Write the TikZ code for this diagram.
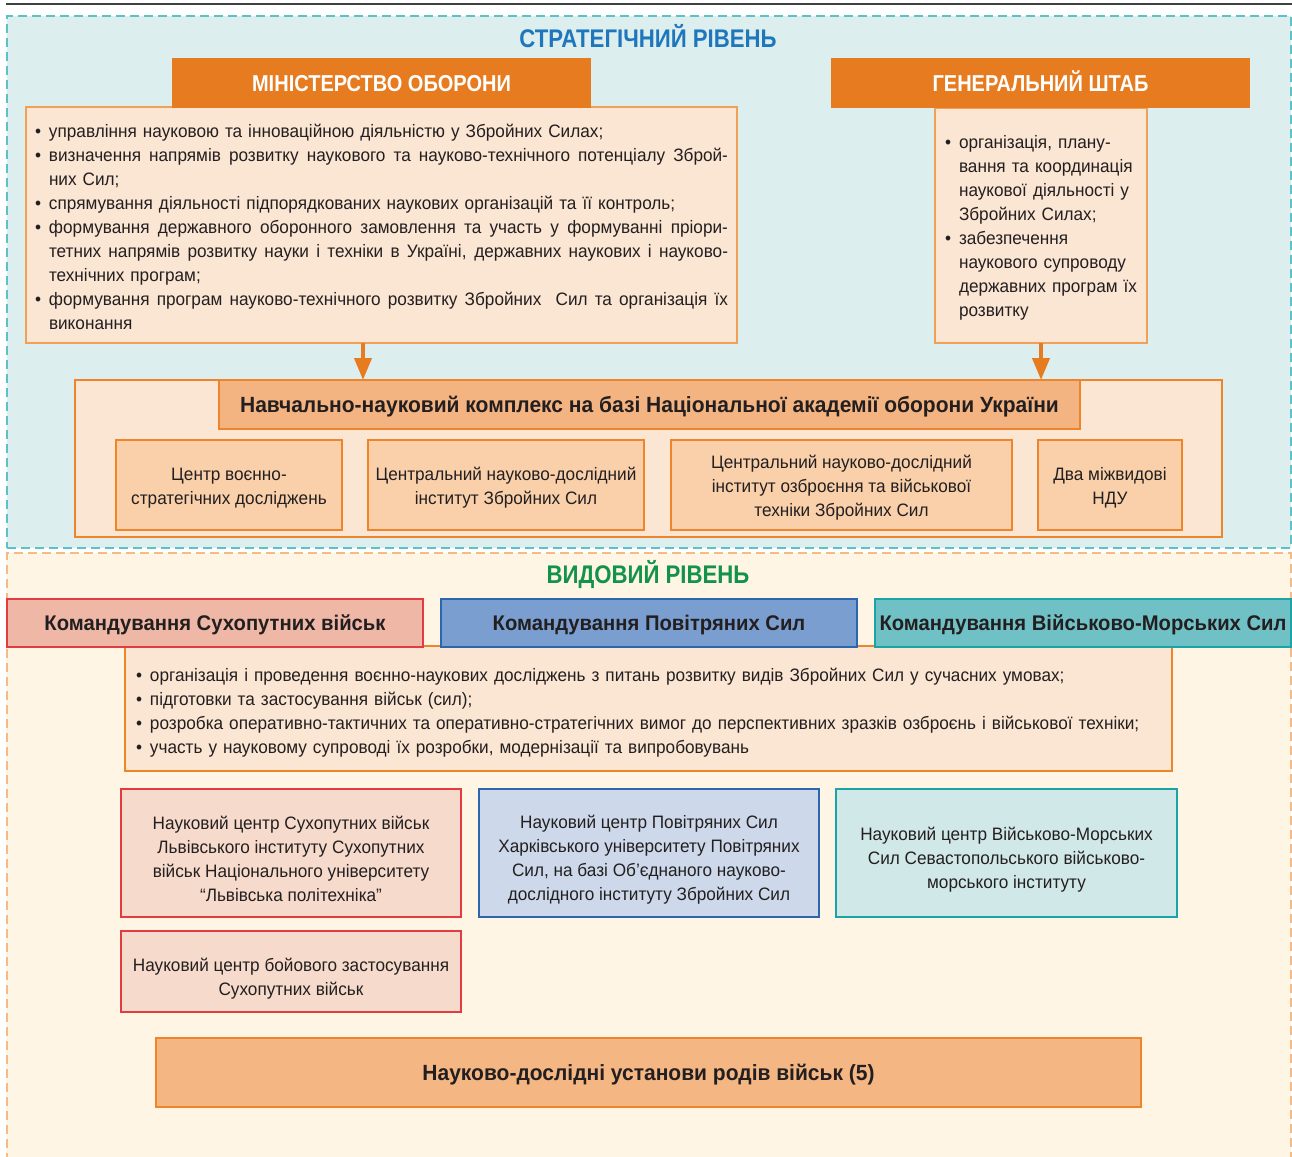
\documentclass[tikz,border=0pt]{standalone}
\usepackage{fontspec}
\setmainfont{Liberation Sans}[FakeStretch=0.955]
\newfontfamily\capsfont{Liberation Sans}[FakeStretch=0.87]
\usetikzlibrary{arrows.meta}
\definecolor{txt}{HTML}{231F20}
\definecolor{tealfill}{HTML}{DDEEEE}
\definecolor{tealdash}{HTML}{5CC2CA}
\definecolor{creamfill}{HTML}{FEF5E4}
\definecolor{creamdash}{HTML}{F6BA85}
\definecolor{orhead}{HTML}{E77B20}
\definecolor{peach}{HTML}{FBE5D3}
\definecolor{peachline}{HTML}{F0A057}
\definecolor{orline}{HTML}{EE852A}
\definecolor{subfill}{HTML}{F9D0AA}
\definecolor{cxhead}{HTML}{F3B481}
\definecolor{bluetitle}{HTML}{1E77BC}
\definecolor{greentitle}{HTML}{13924A}
\definecolor{redhead}{HTML}{EEB7A6}
\definecolor{redline}{HTML}{E23B40}
\definecolor{bluehead}{HTML}{7B9ED0}
\definecolor{blueline}{HTML}{2C67AE}
\definecolor{tealhead}{HTML}{70C1C6}
\definecolor{tealline}{HTML}{1AA4A6}
\definecolor{redbox}{HTML}{F6DBCC}
\definecolor{bluebox}{HTML}{CDD9EA}
\definecolor{tealbox}{HTML}{D1E8E8}
\definecolor{bottomfill}{HTML}{F4B683}
\newcommand{\bul}{\makebox[14pt][l]{•}}
\newcommand{\jbox}[1]{\hbox to 679pt{\spaceskip=\fontdimen2\font plus 1fil\relax #1}}
\newcommand{\bn}[1]{\bul\mbox{#1}}
\newcommand{\cn}[1]{\hspace*{14pt}\mbox{#1}}
\newcommand{\bj}[1]{\bul\jbox{#1}}
\newcommand{\cj}[1]{\hspace*{14pt}\jbox{#1}}
\newcommand{\tp}[1]{\rule{0pt}{#1pt}}
\begin{document}
\begin{tikzpicture}[x=1pt,y=-1pt,
  every node/.style={inner sep=0pt, outer sep=0pt, text=txt},
  bx/.style={draw, rectangle, anchor=north west, align=center, line width=1.2pt},
  region/.style={rectangle, anchor=north west, line width=1.3pt, dash pattern=on 9pt off 5pt},
  bodyf/.style={font=\fontsize{18}{24}\selectfont},
  hdf/.style={font=\capsfont\bfseries\fontsize{23}{28}\selectfont, text height=16.5pt, text depth=0pt},
  cmdf/.style={font=\bfseries\fontsize{21.2}{26}\selectfont, text height=15.3pt, text depth=0pt},
  cxf/.style={font=\bfseries\fontsize{22}{26}\selectfont, text height=15.8pt, text depth=0pt},
  titlef/.style={font=\capsfont\bfseries\fontsize{25.5}{28}\selectfont},
  arr/.style={draw=orhead, line width=4pt, -{Triangle[length=22pt,width=17pt]}},
]
\useasboundingbox (0,0) rectangle (1292,1156);
\clip (0,0) rectangle (1292,1156);
\fill[white] (0,0) rectangle (1292,1156);
\draw[line width=1.4pt, draw=black!75] (6,4) -- (1292,4);

% regions
\node[region, draw=tealdash, fill=tealfill, minimum width=1284pt, minimum height=532pt] (strat) at (7,16) {};
\node[region, draw=creamdash, fill=creamfill, minimum width=1284pt, minimum height=640pt] (oper) at (7,553) {};

\node[titlef, text=bluetitle] (strattitle) at (648,36) {СТРАТЕГІЧНИЙ РІВЕНЬ};
\node[titlef, text=greentitle] (opertitle) at (648,574) {ВИДОВИЙ РІВЕНЬ};

% Ministry
\node[bx, bodyf, fill=peach, draw=peachline, minimum width=711pt, minimum height=236pt, text width=693pt, align=left] (mobody) at (26,107) {%
\bn{\tp{17}управління науковою та інноваційною діяльністю у Збройних Силах;}\\
\bj{визначення напрямів розвитку наукового та науково-технічного потенціалу Зброй-}\\
\cn{них Сил;}\\
\bn{спрямування діяльності підпорядкованих наукових організацій та її контроль;}\\
\bj{формування державного оборонного замовлення та участь у формуванні пріори-}\\
\cj{тетних напрямів розвитку науки і техніки в Україні, державних наукових і науково-}\\
\cn{технічних програм;}\\
\bj{формування програм науково-технічного розвитку Збройних\ \ Сил та організація їх}\\
\cn{виконання}};
\node[bx, hdf, text=white, fill=orhead, draw=orhead, minimum width=417pt, minimum height=48pt] (mohead) at (173,59) {МІНІСТЕРСТВО ОБОРОНИ};

% General staff
\node[bx, bodyf, fill=peach, draw=peachline, minimum width=212pt, minimum height=235pt, text width=192pt, align=left] (gsbody) at (935,108) {%
\bn{\tp{17}організація, плану-}\\
\cn{вання та координація}\\
\cn{наукової діяльності у}\\
\cn{Збройних Силах;}\\
\bn{забезпечення}\\
\cn{наукового супроводу}\\
\cn{державних програм їх}\\
\cn{розвитку}};
\node[bx, hdf, text=white, fill=orhead, draw=orhead, minimum width=417pt, minimum height=48pt] (gshead) at (832,59) {ГЕНЕРАЛЬНИЙ ШТАБ};

% Complex
\node[bx, fill=peach, draw=orline, minimum width=1147pt, minimum height=157pt] (complex) at (75,380) {};
\node[bx, cxf, fill=cxhead, draw=orline, minimum width=861pt, minimum height=49pt] (cxhead) at (219,380) {Навчально-науковий комплекс на базі Національної академії оборони України};
\node[bx, bodyf, fill=subfill, draw=orline, minimum width=226pt, minimum height=90pt] (c1) at (116,440) {\tp{19}Центр воєнно-\\стратегічних досліджень};
\node[bx, bodyf, fill=subfill, draw=orline, minimum width=276pt, minimum height=90pt] (c2) at (368,440) {\tp{19}Центральний науково-дослідний\\інститут Збройних Сил};
\node[bx, bodyf, fill=subfill, draw=orline, minimum width=341pt, minimum height=90pt] (c3) at (671,440) {\tp{19}Центральний науково-дослідний\\інститут озброєння та військової\\техніки Збройних Сил};
\node[bx, bodyf, fill=subfill, draw=orline, minimum width=144pt, minimum height=90pt] (c4) at (1038,440) {\tp{19}Два міжвидові\\НДУ};

\draw[arr] ([xshift=-18.5pt]mobody.south) -- ([xshift=-18.5pt]mobody.south |- complex.north);
\draw[arr] (gsbody.south) -- (gsbody.south |- complex.north);

% Operational level
\node[bx, bodyf, fill=peach, draw=orline, minimum width=1047pt, minimum height=125pt, text width=1025pt, align=left] (opbody) at (125,646) {%
\bn{\tp{21}організація і проведення воєнно-наукових досліджень з питань розвитку видів Збройних Сил у сучасних умовах;}\\
\bn{підготовки та застосування військ (сил);}\\
\bn{розробка оперативно-тактичних та оперативно-стратегічних вимог до перспективних зразків озброєнь і військової техніки;}\\
\bn{участь у науковому супроводі їх розробки, модернізації та випробовувань}};
\node[bx, cmdf, fill=redhead, draw=redline, minimum width=416pt, minimum height=48pt] (land) at (7,599) {Командування Сухопутних військ};
\node[bx, cmdf, fill=bluehead, draw=blueline, minimum width=416pt, minimum height=48pt] (air) at (441,599) {Командування Повітряних Сил};
\node[bx, cmdf, fill=tealhead, draw=tealline, minimum width=416pt, minimum height=48pt] (navy) at (875,599) {Командування Військово-Морських Сил};

\node[bx, bodyf, fill=redbox, draw=redline, minimum width=340pt, minimum height=128pt] (sc1) at (121,789) {\tp{25}Науковий центр Сухопутних військ\\Львівського інституту Сухопутних\\військ Національного університету\\“Львівська політехніка”};
\node[bx, bodyf, fill=bluebox, draw=blueline, minimum width=340pt, minimum height=128pt] (sc2) at (479,789) {\tp{27}Науковий центр Повітряних Сил\\Харківського університету Повітряних\\Сил, на базі Об’єднаного науково-\\дослідного інституту Збройних Сил};
\node[bx, bodyf, fill=tealbox, draw=tealline, minimum width=341pt, minimum height=128pt] (sc3) at (836,789) {\tp{27}Науковий центр Військово-Морських\\Сил Севастопольського військово-\\морського інституту};
\node[bx, bodyf, fill=redbox, draw=redline, minimum width=340pt, minimum height=81pt] (sc4) at (121,931) {\tp{27}Науковий центр бойового застосування\\Сухопутних військ};

\node[bx, cxf, fill=bottomfill, draw=orline, minimum width=985pt, minimum height=69pt] (rnd) at (156,1038) {Науково-дослідні установи родів військ (5)};
\end{tikzpicture}
\end{document}
